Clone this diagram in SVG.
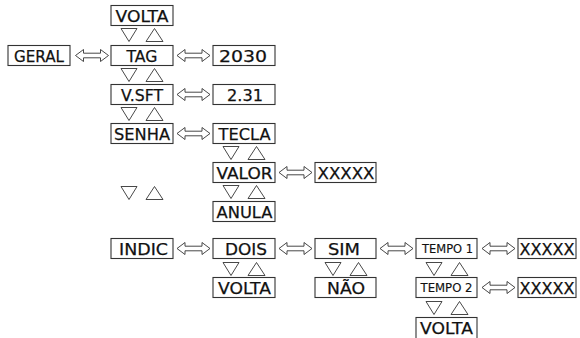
<svg xmlns="http://www.w3.org/2000/svg" xmlns:xlink="http://www.w3.org/1999/xlink" width="580" height="338" viewBox="0 0 580 338">
<style>
.box{fill:#fff;stroke:#333;stroke-width:1.1}
.t{font-family:"DejaVu Sans","Liberation Sans",sans-serif;font-size:16.5px;fill:#111;stroke:#111;stroke-width:0.25;text-anchor:middle}
.s{font-size:11.5px;stroke-width:0.15}
.ar{fill:#fff;stroke:#333;stroke-width:0.9;stroke-linejoin:miter}
.tr{fill:none;stroke:#333;stroke-width:0.9}
</style>
<defs>
<path id="dar" class="ar" d="M0,0 L8,-6 L8,-2.3 L25,-2.3 L25,-6 L33,0 L25,6 L25,2.3 L8,2.3 L8,6 Z"/>
<g id="keys">
<path class="tr" d="M10,0 L26,0 L18,13 Z"/>
<path class="tr" d="M35,13 L52,13 L43.5,0 Z"/>
</g>
</defs>
<g id="connectors">
<use xlink:href="#dar" href="#dar" x="75.5" y="55.5"/>
<use xlink:href="#dar" href="#dar" x="177" y="55.5"/>
<use xlink:href="#dar" href="#dar" x="177" y="94.5"/>
<use xlink:href="#dar" href="#dar" x="177" y="133.5"/>
<use xlink:href="#dar" href="#dar" x="279" y="172.5"/>
<use xlink:href="#dar" href="#dar" x="177" y="248.5"/>
<use xlink:href="#dar" href="#dar" x="279" y="248.5"/>
<use xlink:href="#dar" href="#dar" x="380" y="248.5"/>
<use xlink:href="#dar" href="#dar" x="482" y="248.5"/>
<use xlink:href="#dar" href="#dar" x="482" y="287.5"/>
<use xlink:href="#keys" href="#keys" x="111" y="28.5"/>
<use xlink:href="#keys" href="#keys" x="111" y="68.5"/>
<use xlink:href="#keys" href="#keys" x="111" y="107.5"/>
<use xlink:href="#keys" href="#keys" x="111" y="186.5"/>
<use xlink:href="#keys" href="#keys" x="213" y="146.5"/>
<use xlink:href="#keys" href="#keys" x="213" y="185.5"/>
<use xlink:href="#keys" href="#keys" x="213" y="262.5"/>
<use xlink:href="#keys" href="#keys" x="315" y="262.5"/>
<use xlink:href="#keys" href="#keys" x="416" y="262.5"/>
<use xlink:href="#keys" href="#keys" x="416" y="301.5"/>
</g>
<g id="volta1"><rect class="box" x="111" y="5.5" width="62" height="20"/><text class="t" x="142" y="22" textLength="53" lengthAdjust="spacingAndGlyphs">VOLTA</text></g>
<g id="geral"><rect class="box" x="8" y="45.5" width="62" height="20"/><text class="t" x="39" y="62" textLength="50" lengthAdjust="spacingAndGlyphs">GERAL</text></g>
<g id="tag"><rect class="box" x="111" y="45.5" width="62" height="20"/><text class="t" x="142" y="62" textLength="31" lengthAdjust="spacingAndGlyphs">TAG</text></g>
<g id="n2030"><rect class="box" x="213" y="45.5" width="62" height="20"/><text class="t" x="243" y="62" textLength="48" lengthAdjust="spacingAndGlyphs">2030</text></g>
<g id="vsft"><rect class="box" x="111" y="84.5" width="62" height="20"/><text class="t" x="142" y="101" textLength="42" lengthAdjust="spacingAndGlyphs">V.SFT</text></g>
<g id="n231"><rect class="box" x="213" y="84.5" width="62" height="20"/><text class="t" x="245" y="101" textLength="36" lengthAdjust="spacingAndGlyphs">2.31</text></g>
<g id="senha"><rect class="box" x="111" y="123.5" width="62" height="20"/><text class="t" x="142" y="140" textLength="56" lengthAdjust="spacingAndGlyphs">SENHA</text></g>
<g id="tecla"><rect class="box" x="213" y="123.5" width="62" height="20"/><text class="t" x="244.5" y="140" textLength="52" lengthAdjust="spacingAndGlyphs">TECLA</text></g>
<g id="valor"><rect class="box" x="213" y="162.5" width="62" height="20"/><text class="t" x="244.5" y="179" textLength="56" lengthAdjust="spacingAndGlyphs">VALOR</text></g>
<g id="xxxxx1"><rect class="box" x="315" y="162.5" width="61" height="20"/><text class="t" x="346" y="179" textLength="57" lengthAdjust="spacingAndGlyphs">XXXXX</text></g>
<g id="anula"><rect class="box" x="213" y="201.5" width="62" height="20"/><text class="t" x="244.5" y="218" textLength="56" lengthAdjust="spacingAndGlyphs">ANULA</text></g>
<g id="indic"><rect class="box" x="111" y="238.5" width="62" height="20"/><text class="t" x="143.5" y="255" textLength="49" lengthAdjust="spacingAndGlyphs">INDIC</text></g>
<g id="dois"><rect class="box" x="213" y="238.5" width="62" height="20"/><text class="t" x="246" y="255" textLength="42" lengthAdjust="spacingAndGlyphs">DOIS</text></g>
<g id="sim"><rect class="box" x="315" y="238.5" width="61" height="20"/><text class="t" x="344" y="255" textLength="32" lengthAdjust="spacingAndGlyphs">SIM</text></g>
<g id="tempo1"><rect class="box" x="416" y="238.5" width="61" height="20"/><text class="t s" x="447.5" y="253" textLength="51" lengthAdjust="spacingAndGlyphs">TEMPO 1</text></g>
<g id="xxxxx2"><rect class="box" x="518" y="238.5" width="58" height="20"/><text class="t" x="547" y="255" textLength="55" lengthAdjust="spacingAndGlyphs">XXXXX</text></g>
<g id="volta2"><rect class="box" x="213" y="277.5" width="62" height="20"/><text class="t" x="244.5" y="294" textLength="53" lengthAdjust="spacingAndGlyphs">VOLTA</text></g>
<g id="nao"><rect class="box" x="315" y="277.5" width="61" height="20"/><text class="t" x="346" y="294" textLength="38" lengthAdjust="spacingAndGlyphs">NÃO</text></g>
<g id="tempo2"><rect class="box" x="416" y="277.5" width="61" height="20"/><text class="t s" x="446.5" y="292" textLength="52" lengthAdjust="spacingAndGlyphs">TEMPO 2</text></g>
<g id="xxxxx3"><rect class="box" x="518" y="277.5" width="58" height="20"/><text class="t" x="547" y="294" textLength="55" lengthAdjust="spacingAndGlyphs">XXXXX</text></g>
<g id="volta3"><rect class="box" x="416" y="317.5" width="61" height="24"/><text class="t" x="446.5" y="334" textLength="53" lengthAdjust="spacingAndGlyphs">VOLTA</text></g>
</svg>
